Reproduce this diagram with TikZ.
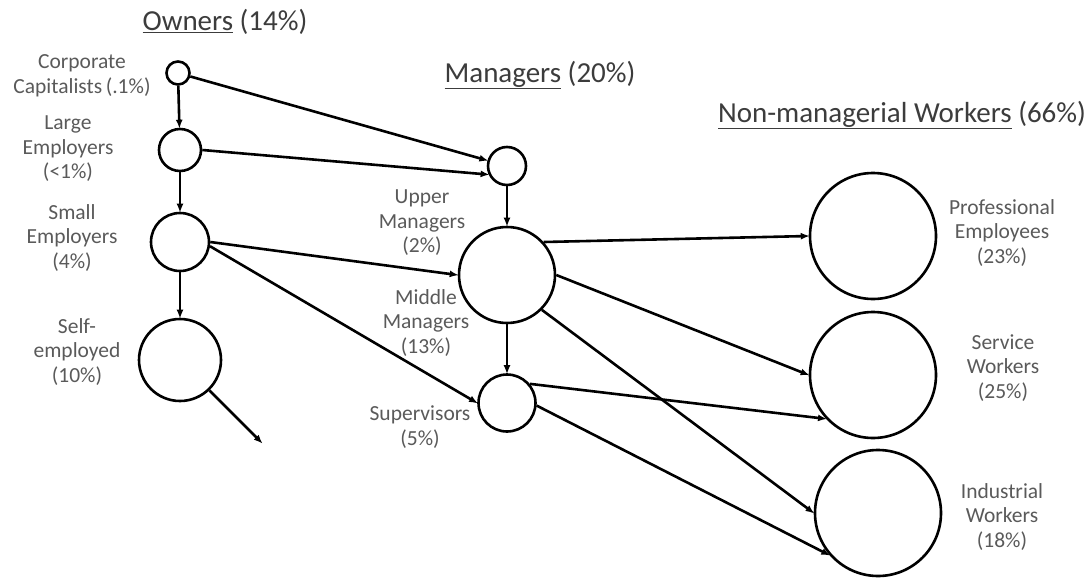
\documentclass[tikz,border=0pt]{standalone}
\usepackage{fontspec}
\setmainfont{Carlito}
\usetikzlibrary{arrows.meta}
\definecolor{labelgray}{RGB}{90,90,90}
\definecolor{titlegray}{RGB}{60,60,60}
\tikzset{
  x=1pt, y=-1pt,
  cls/.style={circle, draw=black, line width=2.6pt, fill=white, inner sep=0pt, minimum size=#1},
  lbl/.style={text=labelgray, align=center, font=\fontsize{21.5}{24.5}\selectfont, inner sep=0pt},
  ttl/.style={text=titlegray, font=\fontsize{29}{34}\selectfont, inner sep=0pt},
  flow/.style={draw=black, line width=2.6pt, -{Latex[length=9pt,width=7pt]}, shorten >=-1pt}
}
\begin{document}
\begin{tikzpicture}
\useasboundingbox[fill=white] (0,0) rectangle (1092,578);

% titles
\node[ttl] (tOwn) at (225,22) {\underline{Owners}~(14\%)};
\node[ttl] (tMan) at (540,75) {\underline{Managers}~(20\%)};
\node[ttl] (tWork) at (902,115) {\underline{Non-managerial Workers}~(66\%)};

% circles
\node[cls=23pt] (corp) at (178,73) {};
\node[cls=42pt] (large) at (180,150) {};
\node[cls=58pt] (small) at (180,242) {};
\node[cls=82pt] (self) at (180,360) {};
\node[cls=38pt] (upper) at (507,166) {};
\node[cls=96pt] (middle) at (507,275) {};
\node[cls=57pt] (super) at (507,403) {};
\node[cls=126pt] (prof) at (873,236) {};
\node[cls=126pt] (serv) at (873,375) {};
\node[cls=126pt] (ind) at (878,513) {};
\coordinate (selfend) at (262,443);

% labels
\node[lbl] (lCorp) at (82,76) {Corporate\\Capitalists\,(.1\%)};
\node[lbl] (lLarge) at (68,149) {Large\\Employers\\(<1\%)};
\node[lbl] (lSmall) at (72,238) {Small\\Employers\\(4\%)};
\node[lbl] (lSelf) at (77,352) {Self-\\employed\\(10\%)};
\node[lbl] (lUpper) at (422,223) {Upper\\Managers\\(2\%)};
\node[lbl] (lMiddle) at (426,323) {Middle\\Managers\\(13\%)};
\node[lbl] (lSuper) at (420,427) {Supervisors\\(5\%)};
\node[lbl] (lProf) at (1002,233) {Professional\\Employees\\(23\%)};
\node[lbl] (lServ) at (1003,368) {Service\\Workers\\(25\%)};
\node[lbl] (lInd) at (1002,517) {Industrial\\Workers\\(18\%)};

% connectors
\draw[flow] (corp) -- (large);
\draw[flow] (corp) -- (upper);
\draw[flow] (large.east) -- (upper.205);
\draw[flow] (large) -- (small);
\draw[flow] (small) -- (self);
\draw[flow] (small.east) -- (middle.west);
\draw[flow] (small.-8) -- (super.west);
\draw[flow] (self.-46) -- (selfend);
\draw[flow] (upper) -- (middle);
\draw[flow] (middle) -- (super);
\draw[flow] (middle.42) -- (prof.west);
\draw[flow] (middle.east) -- (serv.west);
\draw[flow] (middle.-45) -- (ind.west);
\draw[flow] (super.40) -- (serv.223);
\draw[flow] (super.-5) -- (ind.221);
\end{tikzpicture}
\end{document}
